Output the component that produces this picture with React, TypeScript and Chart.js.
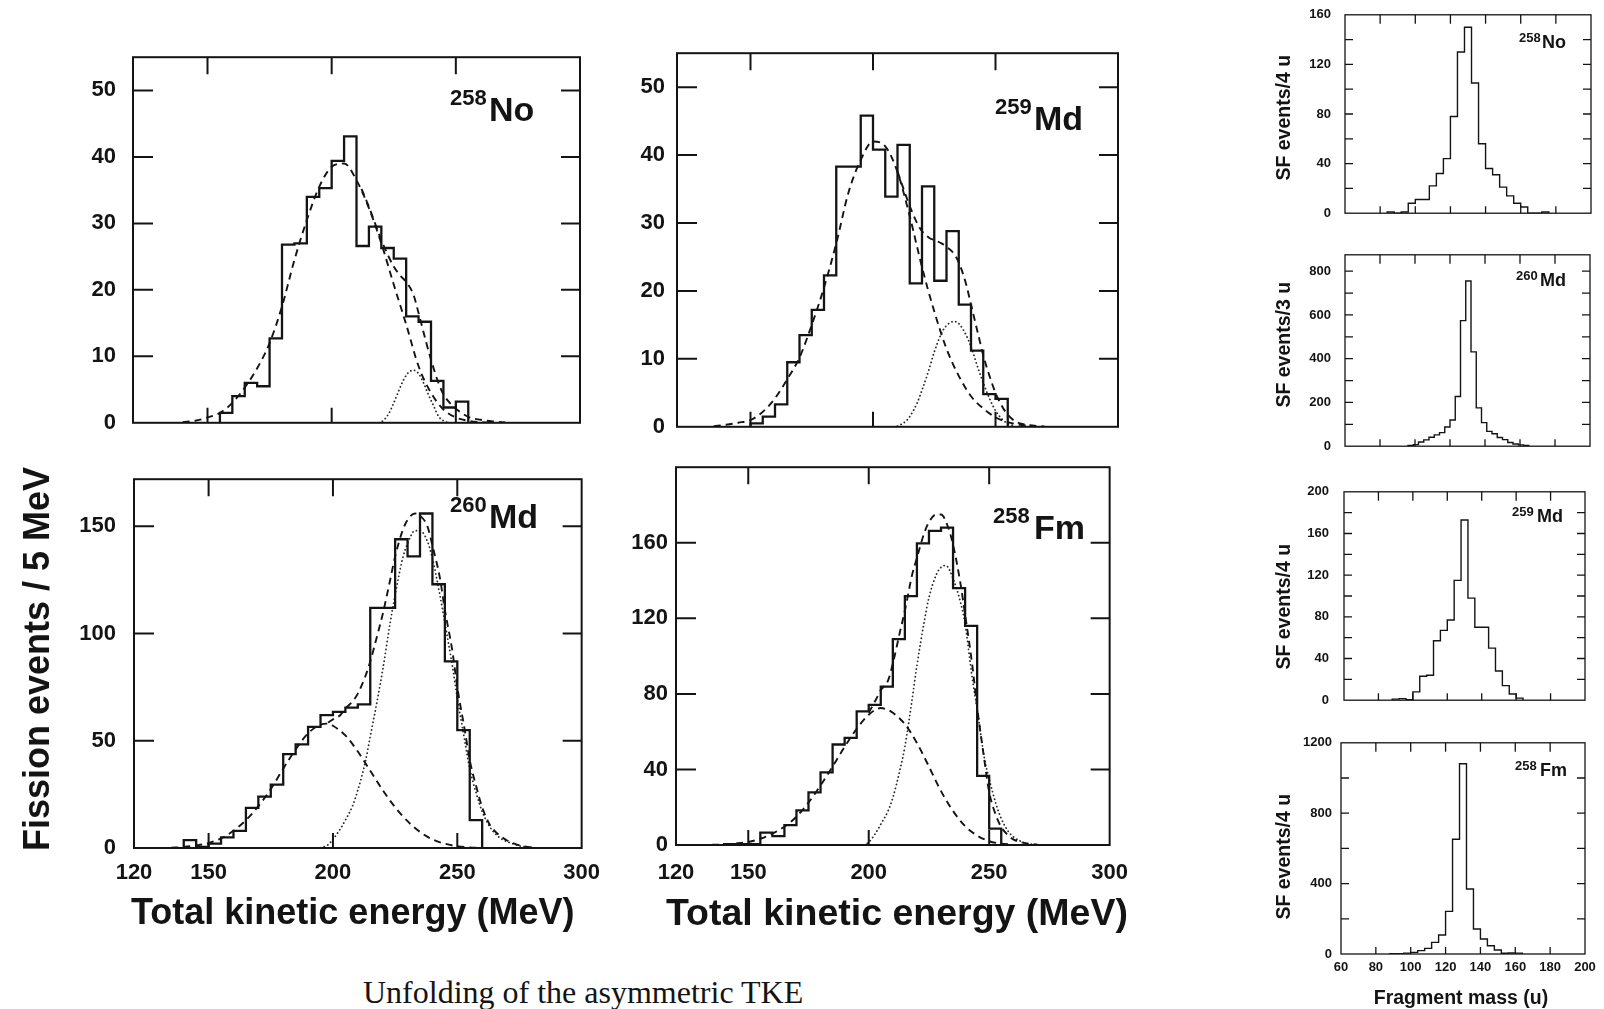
import React, { useEffect, useRef } from "react";
import { Chart, registerables } from "chart.js";

Chart.register(...registerables);

// ======================= DATA =======================
// TKE histograms: events per 5 MeV bin; bins start at *_START (MeV)
const TKE_BIN_WIDTH = 5;
const NO258_TKE_START = 155;
const NO258_TKE = [1.5, 4, 6, 5.5, 12.7, 26.8, 27, 34, 35.3, 39.4, 43.1, 26.6, 29.5, 26.3, 24.7, 16, 15.2, 6.3, 2.3, 3.2];
const MD259_TKE_START = 150;
const MD259_TKE = [0.5, 1.5, 3.3, 9.5, 13.5, 17.2, 22.3, 38.3, 38.3, 45.8, 40.8, 33.9, 41.5, 21.1, 35.4, 21.5, 28.8, 18, 11.2, 4.8, 4.1];
const MD260_TKE_START = 140;
const MD260_TKE = [3.7, 0.5, 2, 5, 8, 18.7, 24, 29.6, 43.8, 48.3, 56.5, 62, 63.5, 65.5, 67, 112, 112, 144, 136, 156, 123, 87, 55, 13];
const FM258_TKE_START = 140;
const FM258_TKE = [0.5, 0.5, 0.5, 6.5, 4.7, 10.5, 18.3, 27.9, 38.4, 53.2, 56.7, 70.7, 74.2, 83.8, 109, 131.7, 159.7, 166.3, 168, 136, 116, 36.6, 8.7];

// Fitted components: [MeV, events]
const NO258_FIT_LOW = [[140, 0.1], [145, 0.3], [150, 0.8], [155, 1.5], [160, 3], [165, 5.3], [170, 8.2], [175, 12], [180, 17.5], [185, 24.5], [190, 30.5], [195, 35.5], [200, 38.5], [205, 39], [210, 36.5], [215, 32.3], [220, 27], [225, 20.8], [230, 14.8], [235, 8.5], [240, 4.5], [245, 2], [250, 0.8], [255, 0.3], [260, 0.1], [265, 0.02]];
const NO258_FIT_HIGH = [[219, 0], [221, 0.4], [223, 1.4], [225, 3], [227, 4.8], [229, 6.5], [231, 7.6], [233, 7.9], [235, 7.4], [237, 6], [239, 4.2], [241, 2.6], [243, 1], [245, 0.3], [247, 0]];
const NO258_FIT_SUM = [[212, 35.2], [215, 32.5], [220, 27.5], [225, 23.5], [228, 22], [230, 21.2], [233, 19.2], [235, 16.5], [238, 12.2], [240, 9.5], [243, 6], [245, 4.3], [248, 2.8], [250, 2.1], [255, 0.9], [260, 0.45], [265, 0.2], [270, 0.05]];

const MD259_FIT_LOW = [[135, 0.1], [140, 0.3], [145, 0.6], [150, 1], [155, 2.2], [160, 4.2], [165, 7], [170, 10.2], [175, 15], [180, 20.5], [185, 27], [190, 34.5], [195, 39.3], [200, 42], [205, 41.3], [210, 37.5], [215, 31], [220, 23.5], [225, 17], [230, 11.5], [235, 7.5], [240, 4.5], [245, 2.7], [250, 1.4], [255, 0.7], [260, 0.3], [265, 0.1]];
const MD259_FIT_HIGH = [[210, 0.1], [213, 0.7], [215, 1.5], [218, 3.5], [220, 5.4], [223, 8.6], [225, 11], [228, 13.8], [230, 14.9], [233, 15.5], [235, 15.2], [238, 13.5], [240, 11.8], [243, 8.5], [245, 6.5], [248, 3.8], [250, 2.4], [253, 1], [255, 0.5], [258, 0.1]];
const MD259_FIT_SUM = [[210, 37.6], [212, 35.5], [215, 32.5], [218, 30], [220, 28.8], [223, 27.8], [225, 27.5], [228, 27], [230, 26.5], [233, 25.5], [235, 24.2], [238, 21], [240, 18], [243, 13.5], [245, 10.5], [248, 7], [250, 5], [253, 2.8], [255, 1.8], [258, 0.8], [260, 0.5], [265, 0.2], [270, 0.05]];

const MD260_FIT_LOW = [[135, 0.1], [140, 0.5], [145, 1.2], [150, 2.3], [155, 4.5], [160, 8], [165, 13], [170, 19.5], [175, 27.5], [180, 37], [185, 46], [190, 53.5], [195, 57.5], [198, 58], [200, 57], [205, 52.5], [210, 45], [215, 36], [220, 27], [225, 19], [230, 12.5], [235, 7.5], [240, 4], [245, 2], [250, 0.8], [255, 0.3], [260, 0.1]];
const MD260_FIT_HIGH = [[195, 0.1], [198, 1.5], [200, 4], [203, 9], [205, 13], [208, 20], [210, 27], [213, 40], [215, 52], [218, 70], [220, 83], [223, 105], [225, 118], [228, 135], [230, 142], [233, 148], [235, 148], [238, 143], [240, 135], [243, 118], [245, 105], [248, 85], [250, 70], [253, 50], [255, 37], [258, 24], [260, 17], [263, 10], [265, 7], [268, 4], [270, 3], [275, 1], [280, 0.2]];
const MD260_FIT_SUM = [[198, 58.5], [200, 60], [203, 62], [205, 65], [208, 68.5], [210, 72], [213, 80], [215, 87], [218, 100], [220, 109], [223, 125], [225, 136], [228, 148], [230, 153], [233, 156], [235, 155], [238, 150], [240, 141], [243, 126], [245, 111], [248, 92], [250, 75], [253, 55], [255, 41], [258, 27], [260, 19], [263, 11], [265, 8], [268, 5], [270, 3.5], [275, 1.2], [280, 0.3]];

const FM258_FIT_LOW = [[135, 0.1], [140, 0.3], [145, 0.8], [150, 1.6], [155, 3.3], [160, 6], [165, 9.7], [170, 15], [175, 22.5], [180, 31.5], [185, 41.5], [190, 52], [195, 61.5], [200, 69], [205, 72.5], [208, 71.5], [210, 70], [215, 64], [220, 54], [225, 41.5], [230, 28.5], [235, 18], [240, 10], [245, 5], [250, 2], [255, 0.7], [260, 0.2]];
const FM258_FIT_HIGH = [[198, 0], [200, 1.5], [203, 6.5], [205, 11], [208, 18], [210, 25], [213, 40], [215, 52], [218, 77], [220, 95], [223, 118], [225, 131], [228, 143], [230, 147], [232, 148], [235, 141], [238, 129], [240, 117], [243, 88], [245, 72], [248, 46], [250, 35], [253, 21], [255, 14], [258, 7], [260, 4.4], [263, 2], [265, 1], [268, 0.3]];
const FM258_FIT_SUM = [[200, 70], [203, 77], [205, 82], [208, 87], [210, 96], [213, 113], [215, 124], [218, 143], [220, 152], [223, 165], [225, 171], [228, 175], [230, 175], [233, 168], [235, 159], [238, 139], [240, 122], [243, 95], [245, 73], [248, 45], [250, 28], [253, 15], [255, 9.5], [258, 5], [260, 3], [265, 1], [270, 0.3]];

// Mass distributions: SF events per bin; bins start at *_START (u)
const NO258_MASS_START = 84;
const NO258_MASS_BIN = 4;
const NO258_MASS = [1, 0, 1, 8, 11, 11, 22, 32, 44, 78, 130, 150, 105, 56, 36, 31, 21, 14, 8, 5, 0, 0, 1];
const MD260_MASS_START = 96;
const MD260_MASS_BIN = 3;
const MD260_MASS = [4, 7, 19, 29, 41, 52, 62, 88, 120, 227, 574, 755, 431, 175, 108, 68, 57, 40, 30, 17, 10, 6, 3];
const MD259_MASS_START = 88;
const MD259_MASS_BIN = 4;
const MD259_MASS = [1, 1.5, 0.5, 8, 23, 24, 57, 67, 77, 115, 173, 98, 70, 70, 50, 28, 14, 6, 2];
const FM258_MASS_START = 88;
const FM258_MASS_BIN = 4;
const FM258_MASS = [2, 2, 5, 9, 19, 32, 66, 108, 242, 652, 1081, 369, 142, 85, 47, 23, 4, 6, 5];

// Axis ticks
const TKE_X_LABELS = [120, 150, 200, 250, 300];
const TKE_X_TICKS = [150, 200, 250];
const TKE_Y_LABELS_SMALL = [0, 10, 20, 30, 40, 50];
const TKE_Y_TICKS_SMALL = [10, 20, 30, 40, 50];
const MD260_TKE_Y_LABELS = [0, 50, 100, 150];
const MD260_TKE_Y_TICKS = [50, 100, 150];
const FM258_TKE_Y_LABELS = [0, 40, 80, 120, 160];
const FM258_TKE_Y_TICKS = [40, 80, 120, 160];
const MASS_X_LABELS = [60, 80, 100, 120, 140, 160, 180, 200];
const MASS_X_TICKS = [80, 100, 120, 140, 160, 180];
const NO258_MASS_Y_LABELS = [0, 40, 80, 120, 160];
const NO258_MASS_Y_TICKS = [20, 40, 60, 80, 100, 120, 140];
const MD260_MASS_Y_LABELS = [0, 200, 400, 600, 800];
const MD260_MASS_Y_TICKS = [100, 200, 300, 400, 500, 600, 700, 800];
const MD259_MASS_Y_LABELS = [0, 40, 80, 120, 160, 200];
const MD259_MASS_Y_TICKS = [20, 40, 60, 80, 100, 120, 140, 160, 180];
const FM258_MASS_Y_LABELS = [0, 400, 800, 1200];
const FM258_MASS_Y_TICKS = [200, 400, 600, 800, 1000];

// ======================= STYLE / LAYOUT =======================
const INK = "#141414";
const SANS = '"Liberation Sans", Arial, Helvetica, sans-serif';
const SERIF = '"Liberation Serif", "Times New Roman", serif';

const TKE_STYLE = { frameWidth: 2, tickWidth: 2, tickTop: 17, tickBottom: 15, tickLeft: 20, tickRight: 19, hist: 2.3, dash: 1.9, dot: 1.8, font: 22 };
const MASS_STYLE = { frameWidth: 1.3, tickWidth: 1.3, tickTop: 9, tickBottom: 7, tickLeft: 8, tickRight: 8, hist: 1.4, dash: 1.2, dot: 1.2, font: 13 };

const Y_AXIS_W = 90;
const PAD_TOP = 16;
const PAD_RIGHT = 30;

function histPoints(start, width, values) {
  const pts = [{ x: start, y: 0 }];
  values.forEach((v, i) => pts.push({ x: start + i * width, y: v }));
  pts.push({ x: start + values.length * width, y: 0 });
  return pts;
}

const tkeCurves = (low, high, sum) => [
  { data: low, kind: "dash" },
  { data: sum, kind: "dash" },
  { data: high, kind: "dot" },
];

const PANELS = [
  {
    key: "no258tke", style: TKE_STYLE, frame: { l: 133, t: 43, r: 580, b: 433 },
    x: { min: 120, max: 300, labels: null, ticks: TKE_X_TICKS, pad: 12 },
    y: { min: 0, max: 55, labels: TKE_Y_LABELS_SMALL, ticks: TKE_Y_TICKS_SMALL, pad: 17 },
    hist: histPoints(NO258_TKE_START, TKE_BIN_WIDTH, NO258_TKE),
    curves: tkeCurves(NO258_FIT_LOW, NO258_FIT_HIGH, NO258_FIT_SUM),
  },
  {
    key: "md259tke", style: TKE_STYLE, frame: { l: 677, t: 44, r: 1118, b: 432 },
    x: { min: 120, max: 300, labels: null, ticks: TKE_X_TICKS, pad: 12 },
    y: { min: 0, max: 55, labels: TKE_Y_LABELS_SMALL, ticks: TKE_Y_TICKS_SMALL, pad: 12 },
    hist: histPoints(MD259_TKE_START, TKE_BIN_WIDTH, MD259_TKE),
    curves: tkeCurves(MD259_FIT_LOW, MD259_FIT_HIGH, MD259_FIT_SUM),
  },
  {
    key: "md260tke", style: TKE_STYLE, frame: { l: 134, t: 464, r: 582, b: 848 },
    x: { min: 120, max: 300, labels: TKE_X_LABELS, ticks: TKE_X_TICKS, pad: 12 },
    y: { min: 0, max: 172, labels: MD260_TKE_Y_LABELS, ticks: MD260_TKE_Y_TICKS, pad: 18 },
    hist: histPoints(MD260_TKE_START, TKE_BIN_WIDTH, MD260_TKE),
    curves: tkeCurves(MD260_FIT_LOW, MD260_FIT_HIGH, MD260_FIT_SUM),
  },
  {
    key: "fm258tke", style: TKE_STYLE, frame: { l: 676, t: 462, r: 1113, b: 845 },
    x: { min: 120, max: 300, labels: TKE_X_LABELS, ticks: TKE_X_TICKS, pad: 15 },
    y: { min: 0, max: 200, labels: FM258_TKE_Y_LABELS, ticks: FM258_TKE_Y_TICKS, pad: 8 },
    hist: histPoints(FM258_TKE_START, TKE_BIN_WIDTH, FM258_TKE),
    curves: tkeCurves(FM258_FIT_LOW, FM258_FIT_HIGH, FM258_FIT_SUM),
  },
  {
    key: "no258mass", style: MASS_STYLE, frame: { l: 1345, t: 9, r: 1591, b: 215 },
    x: { min: 60, max: 200, labels: null, ticks: MASS_X_TICKS, pad: 8 },
    y: { min: 0, max: 160, labels: NO258_MASS_Y_LABELS, ticks: NO258_MASS_Y_TICKS, pad: 14 },
    hist: histPoints(NO258_MASS_START, NO258_MASS_BIN, NO258_MASS), curves: [],
  },
  {
    key: "md260mass", style: MASS_STYLE, frame: { l: 1345, t: 249, r: 1590, b: 448 },
    x: { min: 60, max: 200, labels: null, ticks: MASS_X_TICKS, pad: 8 },
    y: { min: 0, max: 875, labels: MD260_MASS_Y_LABELS, ticks: MD260_MASS_Y_TICKS, pad: 14 },
    hist: histPoints(MD260_MASS_START, MD260_MASS_BIN, MD260_MASS), curves: [],
  },
  {
    key: "md259mass", style: MASS_STYLE, frame: { l: 1344, t: 485, r: 1585, b: 703 },
    x: { min: 60, max: 200, labels: null, ticks: MASS_X_TICKS, pad: 8 },
    y: { min: 0, max: 200, labels: MD259_MASS_Y_LABELS, ticks: MD259_MASS_Y_TICKS, pad: 15 },
    hist: histPoints(MD259_MASS_START, MD259_MASS_BIN, MD259_MASS), curves: [],
  },
  {
    key: "fm258mass", style: MASS_STYLE, frame: { l: 1341, t: 742, r: 1585, b: 954 },
    x: { min: 60, max: 200, labels: MASS_X_LABELS, ticks: MASS_X_TICKS, pad: 6 },
    y: { min: 0, max: 1200, labels: FM258_MASS_Y_LABELS, ticks: FM258_MASS_Y_TICKS, pad: 9 },
    hist: histPoints(FM258_MASS_START, FM258_MASS_BIN, FM258_MASS), curves: [],
  },
];

function makeFramePlugin(spec) {
  return {
    id: "frameTicks",
    afterDatasetsDraw(chart) {
      const { ctx, chartArea: a } = chart;
      const xs = chart.scales.x;
      const ys = chart.scales.y;
      const st = spec.style;
      ctx.save();
      ctx.strokeStyle = INK;
      ctx.lineWidth = st.frameWidth;
      ctx.strokeRect(a.left, a.top, a.right - a.left, a.bottom - a.top);
      ctx.lineWidth = st.tickWidth;
      ctx.beginPath();
      for (const v of spec.x.ticks) {
        const p = xs.getPixelForValue(v);
        ctx.moveTo(p, a.top);
        ctx.lineTo(p, a.top + st.tickTop);
        ctx.moveTo(p, a.bottom);
        ctx.lineTo(p, a.bottom - st.tickBottom);
      }
      for (const v of spec.y.ticks) {
        const p = ys.getPixelForValue(v);
        ctx.moveTo(a.left, p);
        ctx.lineTo(a.left + st.tickLeft, p);
        ctx.moveTo(a.right, p);
        ctx.lineTo(a.right - st.tickRight, p);
      }
      ctx.stroke();
      ctx.restore();
    },
  };
}

function Panel({ spec }) {
  const ref = useRef(null);
  const xH = spec.x.labels ? (spec.style === TKE_STYLE ? 50 : 30) : 20;
  const f = spec.frame;
  const width = f.r - f.l + Y_AXIS_W + PAD_RIGHT;
  const height = f.b - f.t + PAD_TOP + xH;

  useEffect(() => {
    const st = spec.style;
    const tickFont = { family: SANS, size: st.font, weight: "bold" };
    const datasets = [
      {
        data: spec.hist,
        stepped: "before",
        borderColor: INK,
        borderWidth: st.hist,
        borderJoinStyle: "miter",
        pointRadius: 0,
        fill: false,
      },
      ...spec.curves.map((c) => ({
        data: c.data.map(([x, y]) => ({ x, y })),
        borderColor: c.kind === "dot" ? "#2a2a2a" : INK,
        borderWidth: c.kind === "dot" ? st.dot : st.dash,
        borderDash: c.kind === "dot" ? [0.1, 3.8] : [7, 5],
        borderCapStyle: c.kind === "dot" ? "round" : "butt",
        tension: 0.4,
        cubicInterpolationMode: "monotone",
        pointRadius: 0,
        fill: false,
      })),
    ];
    const chart = new Chart(ref.current, {
      type: "line",
      data: { datasets },
      options: {
        responsive: false,
        maintainAspectRatio: false,
        animation: false,
        devicePixelRatio: 1,
        events: [],
        layout: { padding: { left: 0, top: PAD_TOP, right: PAD_RIGHT, bottom: 0 }, autoPadding: false },
        plugins: { legend: { display: false }, tooltip: { enabled: false } },
        scales: {
          x: {
            type: "linear",
            min: spec.x.min,
            max: spec.x.max,
            bounds: "data",
            afterFit: (s) => { s.height = xH; },
            afterBuildTicks: (s) => { s.ticks = (spec.x.labels || []).map((v) => ({ value: v })); },
            grid: { display: false, drawTicks: false },
            border: { display: false },
            ticks: {
              display: !!spec.x.labels,
              autoSkip: false,
              maxRotation: 0,
              minRotation: 0,
              padding: spec.x.pad,
              font: tickFont,
              color: INK,
              callback: (v) => String(v),
            },
          },
          y: {
            type: "linear",
            min: spec.y.min,
            max: spec.y.max,
            bounds: "data",
            afterFit: (s) => { s.width = Y_AXIS_W; },
            afterBuildTicks: (s) => { s.ticks = spec.y.labels.map((v) => ({ value: v })); },
            grid: { display: false, drawTicks: false },
            border: { display: false },
            ticks: {
              autoSkip: false,
              padding: spec.y.pad,
              font: tickFont,
              color: INK,
              callback: (v) => String(v),
            },
          },
        },
      },
      plugins: [makeFramePlugin(spec)],
    });
    return () => chart.destroy();
  }, []);

  return (
    <canvas
      ref={ref}
      width={width}
      height={height}
      style={{ position: "absolute", left: f.l - Y_AXIS_W, top: f.t - PAD_TOP, width, height }}
    />
  );
}

function TextAt({ left, baseline, fs, children, family = SANS, weight = "bold", sx = 1 }) {
  const k = family === SERIF ? 0.8375 : 0.8465;
  return (
    <div
      style={{
        position: "absolute",
        left,
        top: baseline - k * fs,
        fontFamily: family,
        fontWeight: weight,
        fontSize: fs,
        lineHeight: `${fs}px`,
        whiteSpace: "nowrap",
        color: INK,
        transform: sx !== 1 ? `scaleX(${sx})` : undefined,
        transformOrigin: "left top",
      }}
    >
      {children}
    </div>
  );
}

function CenterText({ cx, baseline, fs, children }) {
  const w = 600;
  return (
    <div
      style={{
        position: "absolute",
        left: cx - w / 2,
        width: w,
        top: baseline - 0.8465 * fs,
        textAlign: "center",
        fontFamily: SANS,
        fontWeight: "bold",
        fontSize: fs,
        lineHeight: `${fs}px`,
        whiteSpace: "nowrap",
        color: INK,
      }}
    >
      {children}
    </div>
  );
}

function VText({ cx, cy, fs, children }) {
  const w = 600;
  return (
    <div
      style={{
        position: "absolute",
        left: cx - w / 2,
        top: cy - fs / 2,
        width: w,
        height: fs,
        lineHeight: `${fs}px`,
        textAlign: "center",
        fontFamily: SANS,
        fontWeight: "bold",
        fontSize: fs,
        whiteSpace: "nowrap",
        color: INK,
        transform: "rotate(-90deg)",
        transformOrigin: "center center",
      }}
    >
      {children}
    </div>
  );
}

const ISOTOPE_LABELS = [
  { mass: "258", sym: "No", supLeft: 450, symLeft: 489, base: 120.5, fs: 34, supFs: 22, rise: 15 },
  { mass: "259", sym: "Md", supLeft: 995, symLeft: 1034, base: 130, fs: 34, supFs: 22, rise: 15 },
  { mass: "260", sym: "Md", supLeft: 450, symLeft: 489, base: 528, fs: 34, supFs: 22, rise: 15 },
  { mass: "258", sym: "Fm", supLeft: 993, symLeft: 1034, base: 539, fs: 34, supFs: 22, rise: 15 },
  { mass: "258", sym: "No", supLeft: 1519, symLeft: 1542, base: 48, fs: 18, supFs: 13, rise: 6 },
  { mass: "260", sym: "Md", supLeft: 1516, symLeft: 1540, base: 286, fs: 18, supFs: 13, rise: 6 },
  { mass: "259", sym: "Md", supLeft: 1512, symLeft: 1537, base: 522, fs: 18, supFs: 13, rise: 6 },
  { mass: "258", sym: "Fm", supLeft: 1515, symLeft: 1540, base: 776, fs: 18, supFs: 13, rise: 6 },
];

export default function App() {
  return (
    <div
      style={{
        position: "absolute",
        left: 0,
        top: 0,
        width: 1604,
        height: 1009,
        overflow: "hidden",
        background: "#ffffff",
      }}
    >
      {PANELS.map((p) => (
        <Panel key={p.key} spec={p} />
      ))}

      {ISOTOPE_LABELS.map((l, i) => (
        <React.Fragment key={i}>
          <TextAt left={l.supLeft} baseline={l.base - l.rise} fs={l.supFs}>{l.mass}</TextAt>
          <TextAt left={l.symLeft} baseline={l.base} fs={l.fs}>{l.sym}</TextAt>
        </React.Fragment>
      ))}

      <VText cx={36.5} cy={659} fs={36}>Fission events / 5 MeV</VText>
      <TextAt left={131} baseline={924} fs={36}>Total kinetic energy (MeV)</TextAt>
      <TextAt left={666} baseline={926} fs={37.5}>Total kinetic energy (MeV)</TextAt>
      <TextAt left={363} baseline={1003} fs={32} family={SERIF} weight="normal">Unfolding of the asymmetric TKE</TextAt>

      <VText cx={1284} cy={118} fs={19.5}>SF events/4 u</VText>
      <VText cx={1284} cy={345} fs={19.5}>SF events/3 u</VText>
      <VText cx={1284} cy={607} fs={19.5}>SF events/4 u</VText>
      <VText cx={1284} cy={857} fs={19.5}>SF events/4 u</VText>
      <CenterText cx={1461} baseline={1005} fs={19.5}>Fragment mass (u)</CenterText>
    </div>
  );
}
